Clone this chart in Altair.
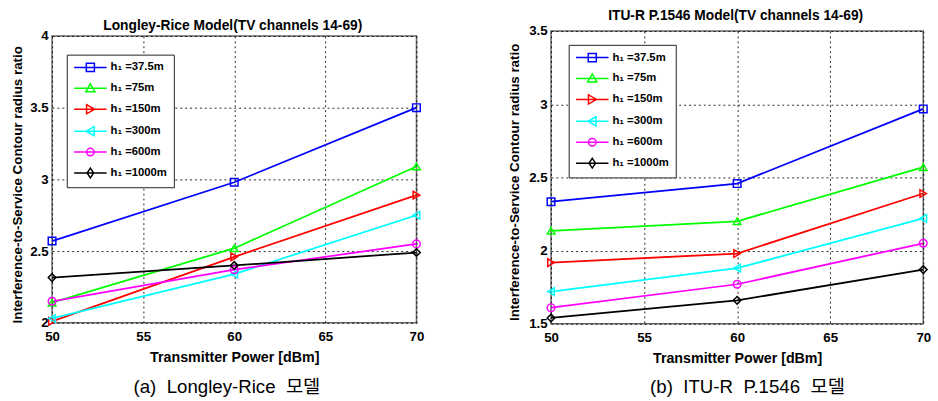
import altair as alt
import pandas as pd

# ---------------- data ----------------
power = [50, 60, 70]
series = ["h₁ =37.5m", "h₁ =75m", "h₁ =150m", "h₁ =300m", "h₁ =600m", "h₁ =1000m"]
colors = ["#0000FF", "#00FF00", "#FF0000", "#00FFFF", "#FF00FF", "#000000"]
shapes = ["square", "triangle-up", "triangle-right", "triangle-left", "circle", "diamond"]

# Longley-Rice model
lr_375 = [2.57, 2.98, 3.50]
lr_75 = [2.14, 2.52, 3.09]
lr_150 = [2.01, 2.46, 2.89]
lr_300 = [2.03, 2.34, 2.75]
lr_600 = [2.15, 2.37, 2.55]
lr_1000 = [2.315, 2.40, 2.49]

# ITU-R P.1546 model
itu_375 = [2.334, 2.458, 2.968]
itu_75 = [2.135, 2.20, 2.57]
itu_150 = [1.918, 1.98, 2.39]
itu_300 = [1.72, 1.88, 2.22]
itu_600 = [1.61, 1.77, 2.05]
itu_1000 = [1.54, 1.66, 1.87]

x_ticks = [50, 55, 60, 65, 70]
lr_yticks = [2, 2.5, 3, 3.5, 4]
itu_yticks = [1.5, 2, 2.5, 3, 3.5]

# legend glyphs: a line segment with the open marker on its middle
legend_paths = [
    "M-1,0H5M1.25,-0.75H2.75V0.75H1.25Z",
    "M-1,0H5M2,-0.85L2.85,0.65L1.15,0.65Z",
    "M-1,0H5M1.3,-0.85L2.8,0L1.3,0.85Z",
    "M-1,0H5M2.7,-0.85L1.2,0L2.7,0.85Z",
    "M-1,0H5M1.3,0A0.7,0.7 0 1,0 2.7,0A0.7,0.7 0 1,0 1.3,0Z",
    "M-1,0H5M2,-0.9L2.6,0L2,0.9L1.4,0Z",
]

FONT = "Liberation Sans"


def make_df(vals):
    rows = []
    for s, v in zip(series, vals):
        for p, r in zip(power, v):
            rows.append({"power": p, "ratio": r, "series": s})
    return pd.DataFrame(rows)


def panel(vals, title, caption, ydom, yticks, w, h, legx, legy,
          title_x, title_y, ytitle_x, ytitle_y, xtitle_dy, cap_x, cap_y):
    df = make_df(vals)
    base = alt.Chart(df)
    x = alt.X("power:Q",
              scale=alt.Scale(domain=[50, 70], nice=False, zero=False),
              axis=alt.Axis(values=x_ticks, title="Transmitter Power [dBm]", grid=True,
                            gridDash=[2, 3], gridColor="black", gridOpacity=0.85,
                            domain=False, ticks=False, labelFlush=False, labelOverlap=False,
                            labelFont=FONT, labelFontWeight="bold", labelFontSize=13.5,
                            labelColor="black", labelPadding=7,
                            titleFont=FONT, titleFontWeight="bold", titleFontSize=14.5,
                            titleColor="black", titleBaseline="middle",
                            titleY=xtitle_dy))
    y = alt.Y("ratio:Q",
              scale=alt.Scale(domain=ydom, nice=False, zero=False),
              axis=alt.Axis(values=yticks, format="~g",
                            title="Interference-to-Service Contour radius ratio", grid=True,
                            gridDash=[2, 3], gridColor="black", gridOpacity=0.85,
                            domain=False, ticks=False, labelFlush=False, labelOverlap=False,
                            labelFont=FONT, labelFontWeight="bold", labelFontSize=13.5,
                            labelColor="black", labelPadding=4,
                            titleFont=FONT, titleFontWeight="bold", titleFontSize=13.6,
                            titleColor="black", titleBaseline="middle",
                            titleX=ytitle_x, titleY=ytitle_y))
    legend = alt.Legend(
        title=None, orient="none", legendX=legx, legendY=legy,
        strokeColor="#222", fillColor="white", padding=6.5,
        labelFont=FONT, labelFontWeight="bold", labelFontSize=11.5, labelColor="black",
        labelOffset=25, labelLimit=300,
        symbolSize=121, symbolStrokeWidth=1.5, rowPadding=5.3,
        symbolFillColor="transparent",
    )
    color_plain = alt.Color("series:N", scale=alt.Scale(domain=series, range=colors),
                            legend=None, sort=series)
    lines = base.mark_line(strokeWidth=1.8).encode(x=x, y=y, color=color_plain)
    points = base.mark_point(filled=False, size=60, strokeWidth=1.5, opacity=1).encode(
        x=x, y=y, color=color_plain,
        shape=alt.Shape("series:N", scale=alt.Scale(domain=series, range=shapes), legend=None),
    )
    # invisible layer that only carries the legend (line + marker glyphs)
    carrier = base.mark_point(filled=False, opacity=0).encode(
        x=x, y=y,
        color=alt.Color("series:N", scale=alt.Scale(domain=series, range=colors),
                        legend=legend, sort=series),
        shape=alt.Shape("series:N", scale=alt.Scale(domain=series, range=legend_paths),
                        legend=legend, sort=series),
    )
    ttl = alt.Chart(pd.DataFrame({"t": [title]})).mark_text(
        font=FONT, fontWeight="bold", fontSize=14, color="black",
        baseline="middle", align="center"
    ).encode(text="t:N", x=alt.value(title_x), y=alt.value(title_y))
    cap = alt.Chart(pd.DataFrame({"t": [caption]})).mark_text(
        font="Liberation Sans, Noto Sans CJK KR", fontSize=19, color="black",
        baseline="middle", align="center"
    ).encode(text="t:N", x=alt.value(cap_x), y=alt.value(cap_y))
    return alt.layer(lines, points, carrier, ttl, cap).resolve_scale(
        color="independent", shape="independent"
    ).properties(
        width=w, height=h,
        view=alt.ViewBackground(stroke="#666", strokeWidth=1.5),
    )


left = panel([lr_375, lr_75, lr_150, lr_300, lr_600, lr_1000],
             "Longley-Rice Model(TV channels 14-69)", "(a)\u00a0 Longley-Rice\u00a0 모델",
             [2, 4], lr_yticks, 371, 292, 15, 19,
             184, -10, -35.5, 151, 35, 178, 357)
right = panel([itu_375, itu_75, itu_150, itu_300, itu_600, itu_1000],
              "ITU-R P.1546 Model(TV channels 14-69)", "(b)\u00a0 ITU-R\u00a0 P.1546\u00a0 모델",
              [1.5, 3.5], itu_yticks, 379, 298, 18, 14,
              188, -15, -37.5, 153.5, 35, 200, 362)

# thin invisible spacer: the left plot sits 5 px lower than the right one
spacer = alt.Chart(pd.DataFrame({"a": [0]})).mark_point(opacity=0).encode(
    x=alt.value(0), y=alt.value(0)
).properties(width=371, height=1, view=alt.ViewBackground(stroke="transparent"))

left_col = alt.vconcat(spacer, left, spacing=4, bounds="flush")

chart = alt.hconcat(left_col, right, spacing=76).resolve_scale(
    x="independent", y="independent"
).properties(
    padding={"left": 9, "top": 5, "right": 0, "bottom": 0}
).configure(background="white")

chart.save("out.html", embed_options={"renderer": "svg", "actions": False})
